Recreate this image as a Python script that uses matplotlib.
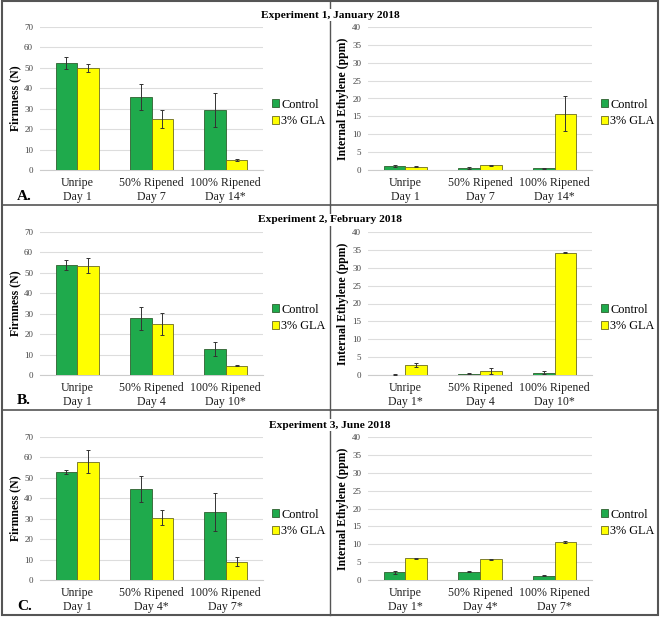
import numpy as np
import matplotlib.pyplot as plt
from matplotlib.lines import Line2D

plt.rcParams['font.family'] = ['Liberation Serif', 'DejaVu Serif']

titles = ['Experiment 1, January 2018', 'Experiment 2, February 2018', 'Experiment 3, June 2018']
panel_tags = ['A.', 'B.', 'C.']

cats_firm = [['Unripe\nDay 1', '50% Ripened\nDay 7', '100% Ripened\nDay 14*'],
             ['Unripe\nDay 1', '50% Ripened\nDay 4', '100% Ripened\nDay 10*'],
             ['Unripe\nDay 1', '50% Ripened\nDay 4*', '100% Ripened\nDay 7*']]
cats_eth = [['Unripe\nDay 1', '50% Ripened\nDay 7', '100% Ripened\nDay 14*'],
            ['Unripe\nDay 1*', '50% Ripened\nDay 4', '100% Ripened\nDay 10*'],
            ['Unripe\nDay 1*', '50% Ripened\nDay 4*', '100% Ripened\nDay 7*']]

# firmness (N)
firm_ctrl = [[52.3, 35.8, 29.5], [54.0, 27.7, 12.8], [52.8, 44.6, 33.3]]
firm_ctrl_err = [[2.8, 6.5, 8.3], [2.5, 5.7, 3.5], [1.0, 6.3, 9.3]]
firm_gla = [[50.0, 25.0, 4.8], [53.5, 25.0, 4.5], [58.0, 30.5, 9.0]]
firm_gla_err = [[2.0, 4.5, 0.6], [3.8, 5.5, 0.3], [5.6, 3.7, 2.2]]

# internal ethylene (ppm)
eth_ctrl = [[1.1, 0.6, 0.5], [0.1, 0.4, 0.6], [2.2, 2.3, 1.2]]
eth_ctrl_err = [[0.2, 0.2, 0.1], [0.05, 0.2, 0.4], [0.4, 0.1, 0.1]]
eth_gla = [[0.9, 1.3, 15.7], [2.8, 1.2, 34.2], [6.1, 5.8, 10.6]]
eth_gla_err = [[0.2, 0.2, 4.9], [0.5, 0.8, 0.2], [0.1, 0.1, 0.2]]

green = '#1faa4c'
yellow = '#ffff00'

W, H = 660, 618
fig = plt.figure(figsize=(W / 100, H / 100), dpi=100)


def px_axes(x0, y0, x1, y1):
    # pixel box (top-left origin) -> figure coords
    return fig.add_axes([x0 / W, 1 - y1 / H, (x1 - x0) / W, (y1 - y0) / H])


def draw(ax, cats, c, ce, g, ge, ymax, step, ylabel):
    x = np.arange(len(cats))
    bw = 0.29
    ax.bar(x - bw / 2, c, bw, yerr=ce, color=green, edgecolor='#2f5f2f', linewidth=0.6,
           error_kw=dict(ecolor='#333333', elinewidth=0.7, capsize=1.5, capthick=0.7), label='Control', zorder=3)
    ax.bar(x + bw / 2, g, bw, yerr=ge, color=yellow, edgecolor='#6b6b20', linewidth=0.6,
           error_kw=dict(ecolor='#333333', elinewidth=0.7, capsize=1.5, capthick=0.7), label='3% GLA', zorder=3)
    ax.set_xlim(-0.5, 2.5)
    ax.set_ylim(0, ymax)
    ax.set_yticks(np.arange(0, ymax + 1, step))
    ax.set_xticks(x)
    ax.set_xticklabels(cats, fontsize=8.6, linespacing=1.25, color='#222222')
    ax.tick_params(axis='y', labelsize=6.5, labelcolor='#444444', length=0, pad=5)
    ax.tick_params(axis='x', length=0, pad=5)
    ax.grid(axis='y', color='#dddddd', linewidth=0.8, zorder=0)
    for s in ['top', 'right', 'left']:
        ax.spines[s].set_visible(False)
    ax.spines['bottom'].set_color('#cccccc')
    ax.set_ylabel(ylabel, fontsize=8.5, fontweight='bold', labelpad=2)
    ax.legend(loc='center left', bbox_to_anchor=(1.0, 0.4), frameon=False, fontsize=8.8,
              handlelength=0.6, handleheight=0.6, handletextpad=0.2, labelspacing=0.35,
              borderaxespad=0.3)


for r in range(3):
    top = r * 205
    axl = px_axes(40, top + 27, 263, top + 170)
    draw(axl, cats_firm[r], firm_ctrl[r], firm_ctrl_err[r], firm_gla[r], firm_gla_err[r],
         70, 10, 'Firmness (N)')
    axr = px_axes(368, top + 27, 592, top + 170)
    draw(axr, cats_eth[r], eth_ctrl[r], eth_ctrl_err[r], eth_gla[r], eth_gla_err[r],
         40, 5, 'Internal Ethylene (ppm)')
    fig.text(330 / W, 1 - (top + 15) / H, titles[r], ha='center', va='center', fontsize=8.2,
             fontweight='bold', bbox=dict(facecolor='white', edgecolor='none', pad=1), zorder=5)
    fig.text(17 / W, 1 - (top + 196) / H, panel_tags[r], ha='left', va='center', fontsize=11,
             fontweight='bold')
    # divider between left and right panels
    fig.add_artist(Line2D([329.5 / W, 329.5 / W], [1 - top / H, 1 - (top + 205) / H],
                          color='#555555', linewidth=1.0, zorder=1))
    # row separator
    if r > 0:
        fig.add_artist(Line2D([2 / W, 658 / W], [1 - top / H, 1 - top / H],
                              color='#555555', linewidth=1.2))

# outer border
fig.add_artist(plt.Rectangle((2 / W, 3 / H), 656 / W, 614 / H, fill=False,
                             edgecolor='#555555', linewidth=1.5, transform=fig.transFigure))

fig.savefig('out.png', dpi=100)
